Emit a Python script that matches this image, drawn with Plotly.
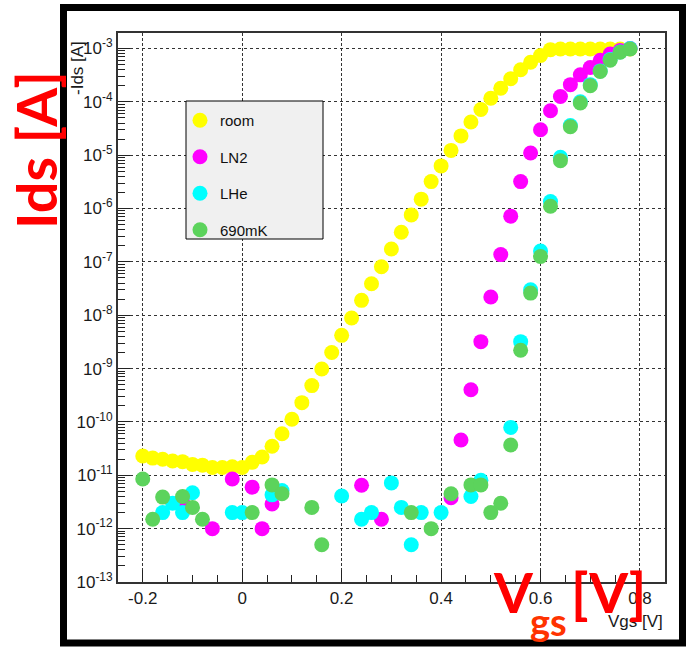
import plotly.graph_objects as go

# ---------------- data ----------------
room_vgs = [-0.20, -0.18, -0.16, -0.14, -0.12, -0.10, -0.08, -0.06, -0.04, -0.02, 0.00,
            0.02, 0.04, 0.06, 0.08, 0.10, 0.12, 0.14, 0.16, 0.18, 0.20,
            0.22, 0.24, 0.26, 0.28, 0.30, 0.32, 0.34, 0.36, 0.38, 0.40,
            0.42, 0.44, 0.46, 0.48, 0.50, 0.52, 0.54, 0.56, 0.58, 0.60,
            0.62, 0.64, 0.66, 0.68, 0.70, 0.72, 0.74, 0.76, 0.78]
room_ids = [2.3e-11, 2.1e-11, 2.0e-11, 1.85e-11, 1.8e-11, 1.6e-11, 1.55e-11, 1.4e-11, 1.4e-11, 1.45e-11, 1.4e-11,
            1.75e-11, 2.2e-11, 3.5e-11, 6.0e-11, 1.12e-10, 2.3e-10, 4.8e-10, 9.8e-10, 2.0e-9, 4.2e-9,
            8.9e-9, 1.9e-8, 3.9e-8, 8.1e-8, 1.74e-7, 3.6e-7, 7.6e-7, 1.5e-6, 3.2e-6, 6.3e-6,
            1.23e-5, 2.3e-5, 4.2e-5, 7.2e-5, 1.17e-4, 1.8e-4, 2.7e-4, 4.0e-4, 5.5e-4, 7.4e-4,
            9.5e-4, 9.8e-4, 9.8e-4, 9.8e-4, 9.8e-4, 9.8e-4, 9.8e-4, 9.8e-4, 9.8e-4]

ln2_vgs = [-0.12, -0.06, -0.02, 0.02, 0.04, 0.06, 0.24, 0.28, 0.42, 0.44, 0.46, 0.48, 0.50,
           0.52, 0.54, 0.56, 0.58, 0.60, 0.62, 0.64, 0.66, 0.68, 0.70, 0.72, 0.74, 0.76, 0.78]
ln2_ids = [3.2e-12, 1.0e-12, 8.5e-12, 6.0e-12, 1.0e-12, 2.9e-12, 6.5e-12, 1.5e-12, 3.8e-12, 4.6e-11, 4.0e-10, 3.2e-9, 2.2e-8,
           1.37e-7, 7.2e-7, 3.2e-6, 1.1e-5, 3.0e-5, 6.8e-5, 1.26e-4, 2.1e-4, 3.2e-4, 4.4e-4, 6.0e-4, 7.9e-4, 9.2e-4, 1.0e-3]

lhe_vgs = [-0.16, -0.14, -0.12, -0.10, -0.02, 0.00, 0.06, 0.08, 0.20, 0.24, 0.26, 0.30, 0.32, 0.34, 0.36, 0.40,
           0.46, 0.48, 0.54, 0.56, 0.58, 0.60, 0.62, 0.64, 0.66, 0.68, 0.70, 0.72, 0.74, 0.76, 0.78]
lhe_ids = [2.0e-12, 3.0e-12, 2.0e-12, 4.7e-12, 2.0e-12, 2.0e-12, 4.3e-12, 5.2e-12, 4.1e-12, 1.5e-12, 2.0e-12, 7.2e-12, 2.5e-12, 5.0e-13, 2.0e-12, 2.0e-12,
           4.0e-12, 8.1e-12, 7.9e-11, 3.2e-9, 3.0e-8, 1.6e-7, 1.35e-6, 9.1e-6, 3.6e-5, 1.0e-4, 2.1e-4, 3.8e-4, 6.2e-4, 8.6e-4, 1.0e-3]

mk690_vgs = [-0.20, -0.18, -0.16, -0.12, -0.10, -0.08, 0.02, 0.06, 0.08, 0.14, 0.16, 0.34, 0.38, 0.42,
             0.46, 0.48, 0.50, 0.52, 0.54, 0.56, 0.58, 0.60, 0.62, 0.64, 0.66, 0.68, 0.70, 0.72, 0.74, 0.76, 0.78]
mk690_ids = [8.5e-12, 1.5e-12, 3.9e-12, 4.0e-12, 2.5e-12, 1.5e-12, 2.0e-12, 6.6e-12, 4.5e-12, 2.5e-12, 5.0e-13, 2.0e-12, 1.0e-12, 4.5e-12,
             6.6e-12, 6.6e-12, 2.0e-12, 3.0e-12, 3.7e-11, 2.2e-9, 2.6e-8, 1.26e-7, 1.1e-6, 7.9e-6, 3.4e-5, 9.5e-5, 2.0e-4, 3.7e-4, 6.0e-4, 8.5e-4, 9.8e-4]

series_names = ["room", "LN2", "LHe", "690mK"]
series_colors = ["#ffff00", "#ff00ff", "#00ffff", "#5cd35c"]

x_tickvals = [-0.2, 0.0, 0.2, 0.4, 0.6, 0.8]
x_ticktext = ["-0.2", "0", "0.2", "0.4", "0.6", "0.8"]
y_exponents = [-13, -12, -11, -10, -9, -8, -7, -6, -5, -4, -3]
y_tickvals = [10.0 ** e for e in y_exponents]
y_ticktext = ["10<sup>%d</sup>" % e for e in y_exponents]

# ---------------- layout helpers ----------------
W, H = 686, 647
ML, MR, MT, MB = 118, 21, 33, 65
PW, PH = W - ML - MR, H - MT - MB


def px2x(px):
    return (px - ML) / PW


def py2y(py):
    return (H - MB - py) / PH


fig = go.Figure()
all_x = [room_vgs, ln2_vgs, lhe_vgs, mk690_vgs]
all_y = [room_ids, ln2_ids, lhe_ids, mk690_ids]
for i, (name, col, xs, ys) in enumerate(zip(series_names, series_colors, all_x, all_y)):
    fig.add_trace(go.Scatter(
        x=xs, y=ys, mode="markers", name=name, legendgroup=name,
        marker=dict(color=col, size=15, line=dict(width=0)),
    ))

minor_y = [m * 10.0 ** e for e in range(-13, -2) for m in range(2, 10)]
minor_x = [round(-0.25 + 0.05 * k, 2) for k in range(23)]

fig.update_layout(
    width=W, height=H,
    margin=dict(l=ML, r=MR, t=MT, b=MB, pad=0),
    paper_bgcolor="white", plot_bgcolor="white",
    showlegend=True,
    legend=dict(
        x=px2x(180), y=py2y(104), xanchor="left", yanchor="top",
        bgcolor="rgba(0,0,0,0)", borderwidth=0,
        font=dict(family="Liberation Sans", size=15, color="#111"),
        traceorder="grouped", tracegroupgap=14,
    ),
    xaxis=dict(
        range=[-0.2498, 0.8503], tickmode="array", tickvals=x_tickvals, ticktext=x_ticktext,
        ticks="inside", ticklen=12, tickwidth=1, tickcolor="#222",
        showline=True, mirror=True, linecolor="#333", linewidth=2,
        showgrid=True, gridcolor="#333", gridwidth=1, griddash="3px,2px",
        zeroline=False,
        tickfont=dict(family="Liberation Sans", size=17, color="#1a1a1a"),
        minor=dict(tickmode="array", tickvals=minor_x, ticks="inside", ticklen=7,
                   tickcolor="#222", showgrid=False),
    ),
    yaxis=dict(
        type="log", range=[-13, -2.71], tickmode="array", tickvals=y_tickvals, ticktext=y_ticktext,
        ticks="inside", ticklen=12, tickwidth=1, tickcolor="#222",
        showline=True, mirror=True, linecolor="#333", linewidth=2,
        showgrid=True, gridcolor="#333", gridwidth=1, griddash="dot",
        zeroline=False,
        tickfont=dict(family="Liberation Sans", size=17, color="#1a1a1a"),
        minor=dict(tickmode="array", tickvals=minor_y, ticks="inside", ticklen=7,
                   tickcolor="#222", showgrid=False),
    ),
)

# legend box
fig.add_shape(type="rect", xref="paper", yref="paper",
              x0=px2x(186), x1=px2x(323), y0=py2y(239), y1=py2y(101),
              fillcolor="#f0f0f0", line=dict(color="black", width=1), layer="above")

# outer black frame
fig.add_shape(type="rect", xref="paper", yref="paper",
              x0=px2x(63.5), x1=px2x(682.5), y0=py2y(643), y1=py2y(7.5),
              line=dict(color="black", width=7), fillcolor="rgba(0,0,0,0)", layer="above")

# axis titles
fig.add_annotation(text="-Ids [A]", xref="paper", yref="paper", x=px2x(77), y=py2y(68),
                   textangle=-90, showarrow=False, xanchor="center", yanchor="middle",
                   font=dict(family="Liberation Sans", size=17, color="#1a1a1a"))
fig.add_annotation(text="Vgs [V]", xref="paper", yref="paper", x=px2x(665), y=py2y(621),
                   showarrow=False, xanchor="right", yanchor="middle",
                   font=dict(family="Liberation Sans", size=17, color="#1a1a1a"))

# big red labels
fig.add_annotation(text="<b>Ids [A]</b>", xref="paper", yref="paper", x=px2x(35), y=py2y(150),
                   textangle=-90, showarrow=False, xanchor="center", yanchor="middle",
                   font=dict(family="Lato", size=56, color="#ff0000"))
fig.add_annotation(text="<b>V</b>", xref="paper", yref="paper", x=px2x(491), y=py2y(591),
                   showarrow=False, xanchor="left", yanchor="middle",
                   font=dict(family="Lato", size=56, color="#ff0000"))
fig.add_annotation(text="<b>gs</b>", xref="paper", yref="paper", x=px2x(528), y=py2y(621),
                   showarrow=False, xanchor="left", yanchor="middle",
                   font=dict(family="Lato", size=38, color="#ff3300"))
fig.add_annotation(text="<b>[V]</b>", xref="paper", yref="paper", x=px2x(569), y=py2y(591),
                   showarrow=False, xanchor="left", yanchor="middle",
                   font=dict(family="Lato", size=56, color="#ff0000"))

fig.write_html("out.html")
